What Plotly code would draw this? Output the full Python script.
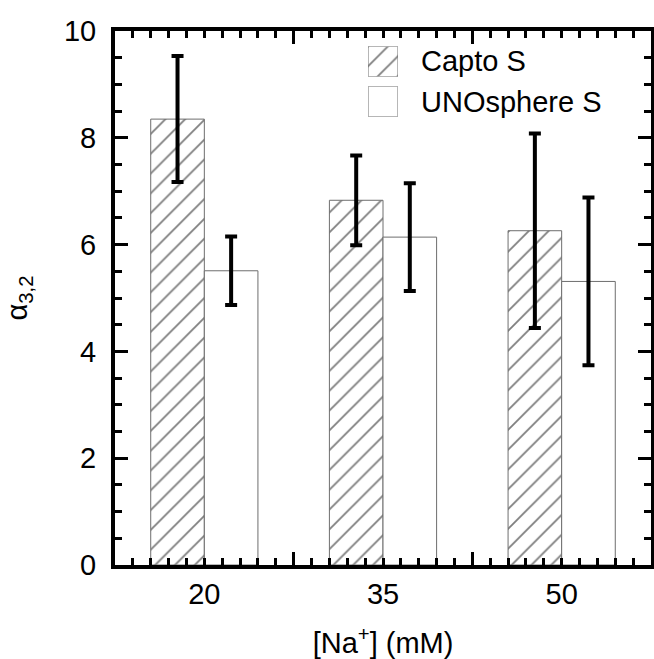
import plotly.graph_objects as go

na_conc = [20, 35, 50]
capto_vals = [8.35, 6.83, 6.26]
capto_err = [1.18, 0.84, 1.82]
uno_vals = [5.51, 6.14, 5.31]
uno_err = [0.64, 1.01, 1.57]
series_names = ["Capto S", "UNOsphere S"]
x_ticklabels = ["20", "35", "50"]

FONT = "Liberation Sans, Arial, sans-serif"
TXT = dict(family=FONT, size=29, color="black")
HATCH = dict(shape="/", fgcolor="#000000", bgcolor="white", size=14, solidity=0.13)
EDGE = dict(color="#6e6e6e", width=1)
ERR = dict(type="data", visible=True, color="black", thickness=4, width=6)

fig = go.Figure()
fig.add_trace(go.Bar(
    name=series_names[0], x=na_conc, y=capto_vals, showlegend=False,
    marker=dict(color="white", line=EDGE, pattern=HATCH),
    error_y=dict(array=capto_err, **ERR),
))
fig.add_trace(go.Bar(
    name=series_names[1], x=na_conc, y=uno_vals, showlegend=False,
    marker=dict(color="white", line=EDGE),
    error_y=dict(array=uno_err, **ERR),
))
# invisible helpers so the tick-only overlay axes are drawn
for xa, ya in [("x2", "y"), ("x3", "y2")]:
    fig.add_trace(go.Scatter(x=[None], y=[None], xaxis=xa, yaxis=ya,
                             showlegend=False, hoverinfo="skip"))

# legend swatches (custom legend with large boxes)
fig.add_trace(go.Bar(x=[0], y=[1], width=[1], xaxis="x4", yaxis="y4", showlegend=False,
                     hoverinfo="skip", marker=dict(color="white", line=EDGE, pattern=HATCH)))
fig.add_trace(go.Bar(x=[0], y=[1], width=[1], xaxis="x5", yaxis="y5", showlegend=False,
                     hoverinfo="skip", marker=dict(color="white", line=EDGE)))

X_RANGE = [12.5, 57.5]
Y_RANGE = [0, 10]
tick_style = dict(ticks="inside", tickcolor="black", tickwidth=3, ticklen=13,
                  showgrid=False, zeroline=False)
minor_x = dict(tick0=12.5, dtick=1.5, ticks="inside", ticklen=7, tickwidth=3, tickcolor="black", showgrid=False)
minor_y = dict(tick0=0, dtick=0.5, ticks="inside", ticklen=7, tickwidth=3, tickcolor="black", showgrid=False)

L, R, T, B = 115, 3, 31, 94
W, H = 654, 659
pw, ph = W - L - R, H - T - B

def px_x(p):
    return (p - L) / pw

def px_y(p):
    return (H - B - p) / ph

fig.update_layout(
    width=W, height=H,
    margin=dict(l=L, r=R, t=T, b=B),
    paper_bgcolor="white", plot_bgcolor="white",
    barmode="group", bargap=0.4, bargroupgap=0,
    showlegend=False,
    xaxis=dict(range=X_RANGE, tickmode="array", tickvals=na_conc, ticktext=x_ticklabels,
               ticks="", showline=True, linecolor="black", linewidth=4, mirror=True,
               showgrid=False, zeroline=False, automargin=False,
               tickfont=TXT, ticklabelstandoff=0,
               title=dict(text="[Na<sup>+</sup>] (mM)", font=TXT, standoff=32)),
    xaxis2=dict(range=X_RANGE, overlaying="x", side="bottom", anchor="y",
                tick0=12.5, dtick=15, showticklabels=False, minor=minor_x,
                automargin=False, **tick_style),
    xaxis3=dict(range=X_RANGE, overlaying="x", side="top", anchor="y2",
                tick0=12.5, dtick=15, showticklabels=False, minor=minor_x,
                automargin=False, **tick_style),
    yaxis=dict(range=Y_RANGE, tick0=0, dtick=2, minor=minor_y,
               showline=True, linecolor="black", linewidth=4, mirror=True,
               tickfont=TXT, ticklabelstandoff=9, automargin=False,
               title=dict(text="α<sub>3,2</sub>", font=TXT, standoff=29),
               **tick_style),
    yaxis2=dict(range=Y_RANGE, overlaying="y", side="right", anchor="x3",
                tick0=0, dtick=2, minor=minor_y, showticklabels=False,
                automargin=False, **tick_style),
    xaxis4=dict(domain=[px_x(368), px_x(398)], anchor="y4", range=[-0.5, 0.5], visible=False, fixedrange=True),
    yaxis4=dict(domain=[px_y(76.5), px_y(46.5)], anchor="x4", range=[0, 1], visible=False, fixedrange=True),
    xaxis5=dict(domain=[px_x(368), px_x(398)], anchor="y5", range=[-0.5, 0.5], visible=False, fixedrange=True),
    yaxis5=dict(domain=[px_y(116.5), px_y(86.5)], anchor="x5", range=[0, 1], visible=False, fixedrange=True),
    annotations=[
        dict(text=series_names[0], xref="paper", yref="paper", x=px_x(419), y=px_y(61.5),
             xanchor="left", yanchor="middle", showarrow=False, font=TXT),
        dict(text=series_names[1], xref="paper", yref="paper", x=px_x(419), y=px_y(101.5),
             xanchor="left", yanchor="middle", showarrow=False, font=TXT),
    ],
)

fig.write_html("out.html", config={"displayModeBar": False},
               post_script="document.body.style.margin='0';document.body.style.overflow='hidden';")
